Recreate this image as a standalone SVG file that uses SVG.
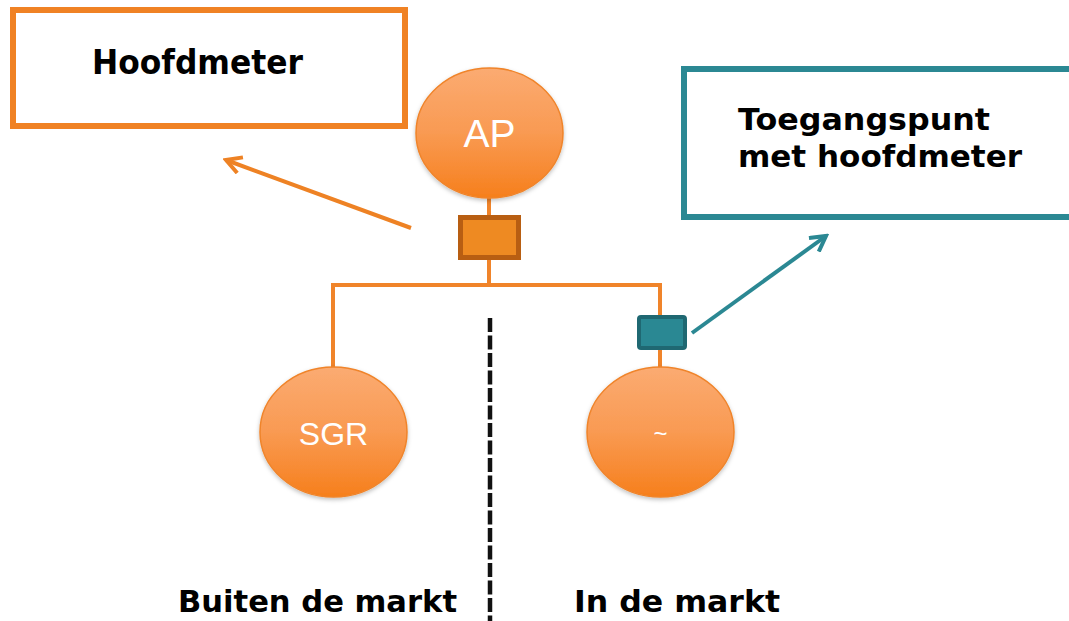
<svg xmlns="http://www.w3.org/2000/svg" width="1069" height="621" viewBox="0 0 1069 621">
<defs>
<linearGradient id="og" x1="0" y1="0" x2="0" y2="1">
<stop offset="0" stop-color="#FBAB72"/>
<stop offset="0.5" stop-color="#F99A52"/>
<stop offset="1" stop-color="#F67F1C"/>
</linearGradient>
<filter id="sh" x="-20%" y="-20%" width="140%" height="140%">
<feDropShadow dx="0" dy="2" stdDeviation="2" flood-color="#000" flood-opacity="0.25"/>
</filter>
<marker id="ao" viewBox="0 0 12 12" refX="10" refY="6" markerWidth="5" markerHeight="5" orient="auto" markerUnits="strokeWidth">
<path d="M1,1 L10,6 L1,11" fill="none" stroke="#EE8224" stroke-width="2.4"/>
</marker>
<marker id="at" viewBox="0 0 12 12" refX="10" refY="6" markerWidth="5" markerHeight="5" orient="auto" markerUnits="strokeWidth">
<path d="M1,1 L10,6 L1,11" fill="none" stroke="#2B8893" stroke-width="2.4"/>
</marker>
</defs>
<style>
.bubble{fill:url(#og);stroke:#F0842A;stroke-width:1.5;filter:url(#sh)}
.btxt{font-family:Arial,"Liberation Sans",sans-serif;fill:#fff;text-anchor:middle}
.lbl{font-family:"DejaVu Sans",Verdana,sans-serif;font-weight:bold;fill:#000}
.wire{fill:none;stroke:#F0842A;stroke-width:4}
</style>
<rect width="1069" height="621" fill="#fff"/>
<g id="connectors">
<path class="wire" d="M489,196 V285 M333,285 H660 M333,283 V370 M660,283 V320 M660,346 V372"/>
<line x1="411" y1="228" x2="226" y2="160" stroke="#EE8224" stroke-width="4" marker-end="url(#ao)"/>
<line x1="692" y1="333" x2="826" y2="236" stroke="#2B8893" stroke-width="4" marker-end="url(#at)"/>
<line x1="490" y1="318" x2="490" y2="621" stroke="#111" stroke-width="4.5" stroke-dasharray="14,3.5"/>
</g>
<g id="hoofdmeter-box">
<rect x="13" y="10" width="392" height="116" fill="#fff" stroke="#F08224" stroke-width="6"/>
<text class="lbl" x="92" y="74" font-size="34" textLength="211" lengthAdjust="spacingAndGlyphs">Hoofdmeter</text>
</g>
<g id="toegangspunt-box">
<rect x="684" y="69" width="400" height="148" fill="#fff" stroke="#2B8893" stroke-width="6"/>
<text class="lbl" x="738" y="130" font-size="31" textLength="252" lengthAdjust="spacingAndGlyphs">Toegangspunt</text>
<text class="lbl" x="738" y="167" font-size="31" textLength="284" lengthAdjust="spacingAndGlyphs">met hoofdmeter</text>
</g>
<g id="ap">
<ellipse class="bubble" cx="489.5" cy="133" rx="73.5" ry="65"/>
<text class="btxt" x="489.5" y="147" font-size="39">AP</text>
</g>
<g id="hoofdmeter">
<rect x="460.5" y="217.5" width="58" height="40" fill="#EE8A22" stroke="#B85E12" stroke-width="5"/>
</g>
<g id="toegangspunt-meter">
<rect x="639" y="317" width="46" height="31" rx="2" fill="#2A8893" stroke="#1F6872" stroke-width="4"/>
</g>
<g id="sgr">
<ellipse class="bubble" cx="333.5" cy="432" rx="73.5" ry="65"/>
<text class="btxt" x="333.5" y="445" font-size="32">SGR</text>
</g>
<g id="generator">
<ellipse class="bubble" cx="660.5" cy="432" rx="73.5" ry="65"/>
<text class="btxt" x="660.5" y="442" font-size="24">~</text>
</g>
<g id="labels">
<text class="lbl" x="178" y="612" font-size="31" textLength="279" lengthAdjust="spacingAndGlyphs">Buiten de markt</text>
<text class="lbl" x="574" y="612" font-size="31" textLength="206" lengthAdjust="spacingAndGlyphs">In de markt</text>
</g>
</svg>
